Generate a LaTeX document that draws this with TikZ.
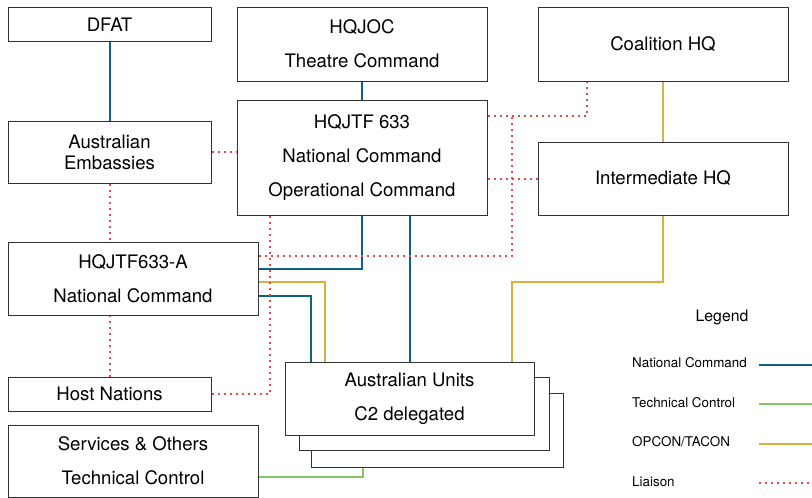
\documentclass[tikz,border=0pt]{standalone}
\usepackage{fontspec}
\setmainfont{TeX Gyre Heros}
\usepackage{xcolor}
\definecolor{natblue}{RGB}{16, 98, 133}
\definecolor{techgreen}{RGB}{132, 198, 104}
\definecolor{opgold}{RGB}{216, 178, 62}
\definecolor{liaisonred}{RGB}{232, 72, 72}
\usepackage{tikz}
\usetikzlibrary{calc}

\begin{document}
\begin{tikzpicture}[
    x=1pt, y=-1pt,
    box/.style={draw=black!80, line width=1pt, fill=white, align=center,
      inner sep=0pt, font=\fontsize{18.6}{34}\selectfont},
    natcmd/.style={draw=natblue, line width=2pt},
    techctl/.style={draw=techgreen, line width=2pt},
    opcon/.style={draw=opgold, line width=2pt},
    liaison/.style={draw=liaisonred, line width=2pt, dash pattern=on 2pt off 4pt},
    legtext/.style={anchor=west, inner sep=0pt, font=\fontsize{13.4}{15}\selectfont}
  ]
  \useasboundingbox (0,0) rectangle (812,498);
  \node[box, minimum width=203, minimum height=34] (dfat) at (109.5,24.5) {DFAT};
  \node[box, minimum width=203, minimum height=62, font=\fontsize{18.6}{21}\selectfont]
    (emb) at (109.5,152) {Australian\\Embassies};
  \node[box, minimum width=250, minimum height=74] (hqjoc) at (362,44) {HQJOC\\Theatre Command};
  \node[box, minimum width=250, minimum height=115] (jtf) at (362,157.5)
    {HQJTF 633\\National Command\\Operational Command};
  \node[box, minimum width=250, minimum height=74] (coal) at (663,44) {Coalition HQ};
  \node[box, minimum width=250, minimum height=73] (inter) at (663,178.5) {Intermediate HQ};
  \node[box, minimum width=250, minimum height=73] (hqa) at (133,278.5) {HQJTF633-A\\National Command};
  \node[box, minimum width=203, minimum height=34] (host) at (109.5,394) {Host Nations};
  \node[box, minimum width=250, minimum height=72] (svc) at (133,461) {Services \& Others\\Technical Control};
  \node[box, minimum width=252, minimum height=74] (units3) at (437,430) {};
  \node[box, minimum width=250, minimum height=73] (units2) at (424,413.5) {};
  \node[box, minimum width=249, minimum height=73] (units) at (409.5,398.5) {Australian Units\\C2 delegated};

  \coordinate (kgold) at (512,282);
  \coordinate (kred) at (512,116);

  \draw[natcmd] (dfat) -- (emb);
  \draw[natcmd] (hqjoc) -- (jtf);
  \draw[natcmd] ([xshift=48]jtf.south) -- ([xshift=48]jtf.south |- units.north);
  \draw[natcmd] (jtf.south) |- ([yshift=-27]hqa.north east);
  \draw[natcmd] ([yshift=-54]hqa.north east) -| ([xshift=26]units.north west);
  \draw[opcon] (coal) -- (inter);
  \draw[opcon] (inter.south) |- (kgold) -- (kgold |- units.north);
  \draw[opcon] ([yshift=-40]hqa.north east) -| ([xshift=40]units.north west);
  \draw[techctl] ([yshift=-52]svc.north east) -| ([xshift=52]units3.south west);
  \draw[liaison] (emb.east) -- (emb.east -| jtf.west);
  \draw[liaison] (emb.south) -- (emb.south |- hqa.north);
  \draw[liaison] (host.north) -- (host.north |- hqa.south);
  \draw[liaison] (host.east) -| ([xshift=33]jtf.south west);
  \draw[liaison] ([yshift=-16]jtf.north east) -| ([xshift=49]coal.south west);
  \draw[liaison] (jtf.east |- inter.west) -- (inter.west);
  \draw[liaison] ([yshift=-14]hqa.north east) -| (kred);

  \node[font=\fontsize{15.8}{17}\selectfont] (legend) at (722,317) {Legend};
  \node[legtext] (lnat) at (632,363) {National Command};
  \node[legtext] (ltech) at (632,403) {Technical Control};
  \node[legtext] (lop) at (632,442) {OPCON/TACON};
  \node[legtext] (lliai) at (632,482) {Liaison};
  \coordinate (enat) at (759,365);
  \coordinate (etech) at (759,404);
  \coordinate (eop) at (759,444);
  \coordinate (eliai) at (759,483);
  \draw[natcmd] (enat) -- ++(53,0);
  \draw[techctl] (etech) -- ++(53,0);
  \draw[opcon] (eop) -- ++(53,0);
  \draw[liaison] (eliai) -- ++(53,0);
\end{tikzpicture}
\end{document}
